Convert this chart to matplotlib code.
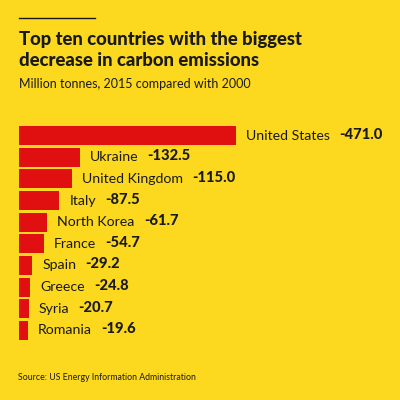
import matplotlib
matplotlib.use("Agg")
import matplotlib.pyplot as plt
from matplotlib.lines import Line2D

countries = ["United States", "Ukraine", "United Kingdom", "Italy", "North Korea",
             "France", "Spain", "Greece", "Syria", "Romania"]
values = [-471.0, -132.5, -115.0, -87.5, -61.7, -54.7, -29.2, -24.8, -20.7, -19.6]
title = "Top ten countries with the biggest\ndecrease in carbon emissions"
subtitle = "Million tonnes, 2015 compared with 2000"
source = "Source: US Energy Information Administration"

BG = "#FCD91E"
RED = "#E01010"
INK = "#1A1A1A"
W = H = 400

plt.rcParams['font.family'] = ['Lato', 'DejaVu Sans']
fig = plt.figure(figsize=(4, 4), dpi=100, facecolor=BG)

# axes: left edge at x=19px, bar for 471 ends at 236px
left_px, right_px = 19, 400
top_px, bot_px = 124.7, 341.3
ax = fig.add_axes([left_px / W, 1 - bot_px / H, (right_px - left_px) / W, (bot_px - top_px) / H])
ax.set_facecolor(BG)
ax.patch.set_alpha(0)
mags = [abs(v) for v in values]
ax.set_xlim(0, 471.0 * (right_px - left_px) / (236 - left_px))
ax.set_ylim(len(countries) - 0.5, -0.5)
ypos = list(range(len(countries)))
ax.barh(ypos, mags, height=0.87, color=RED, left=0)
ax.axis('off')

for y, c, m, v in zip(ypos, countries, mags, values):
    t = ax.annotate(c, xy=(m, y), xytext=(7.2, 0), textcoords='offset points',
                    va='center', ha='left', fontsize=10.2, color=INK)
    ax.annotate(f"{v:.1f}", xy=(1, 0), xycoords=t, xytext=(6.5, 0),
                textcoords='offset points', va='bottom', ha='left',
                fontsize=10.6, fontweight='black', color=INK)

# top rule
fig.add_artist(Line2D([19 / W, 95 / W], [1 - 18 / H, 1 - 18 / H], color=INK, lw=1.0))
fig.text(19 / W, 1 - 31 / H, title, ha='left', va='top', fontsize=13.3,
         fontweight='black', color=INK, linespacing=1.27)
fig.text(19 / W, 1 - 84 / H, subtitle, ha='left', va='center', fontsize=9.0, color=INK)
fig.text(18 / W, 1 - 378 / H, source, ha='left', va='center', fontsize=6.3, color=INK)

fig.savefig("out.png", dpi=100, facecolor=BG)
